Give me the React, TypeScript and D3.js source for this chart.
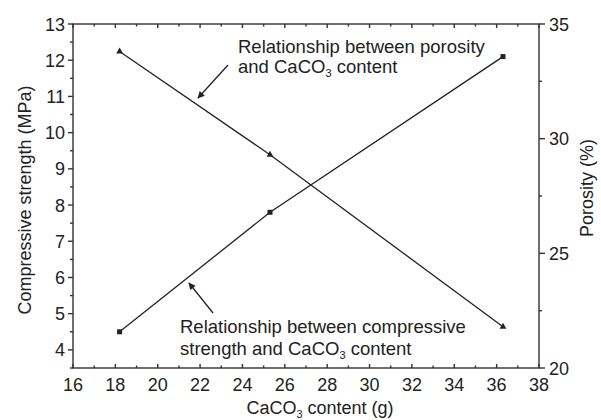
import React from "react";
import * as d3 from "d3";

// CaCO3 content (g)
const caco3 = [18.2, 25.3, 36.3];
// compressive strength (MPa), squares
const strength = [4.5, 7.8, 12.1];
// porosity (%), triangles
const porosity = [33.8, 29.3, 21.8];

const xTicks = [16, 18, 20, 22, 24, 26, 28, 30, 32, 34, 36, 38];
const yLeftTicks = [4, 5, 6, 7, 8, 9, 10, 11, 12, 13];
const yRightTicks = [20, 25, 30, 35];

const W = 601, H = 420;
const m = { left: 73, right: 62, top: 24, bottom: 52 };
const font = "Arial, 'Liberation Sans', sans-serif";
const ink = "#222";

export default function App() {
  const x = d3.scaleLinear().domain([16, 38]).range([m.left, W - m.right]);
  const yL = d3.scaleLinear().domain([3.5, 13]).range([H - m.bottom, m.top]);
  const yR = d3.scaleLinear().domain([20, 35]).range([H - m.bottom, m.top]);
  const x0 = m.left, x1 = W - m.right, y0 = H - m.bottom, y1 = m.top;

  const lineS = d3.line<number>().x((d, i) => x(caco3[i])).y(d => yL(d));
  const lineP = d3.line<number>().x((d, i) => x(caco3[i])).y(d => yR(d));
  const tri = d3.symbol().type(d3.symbolTriangle).size(20)();

  const xMinor = d3.range(17, 38, 2);
  const yLMinor = d3.range(3.5, 13, 1);
  const yRMinor = [22.5, 27.5, 32.5];

  return (
    <svg width={W} height={H} style={{ position: "absolute", left: 0, top: 0 }} fontFamily={font}>
      <defs>
        <marker id="ah" viewBox="0 0 10 10" refX="9" refY="5" markerWidth="9" markerHeight="7" orient="auto" markerUnits="userSpaceOnUse">
          <path d="M0,0 L10,5 L0,10 z" fill={ink} />
        </marker>
      </defs>
      <g stroke="#333" strokeWidth={1.4} fill="none">
        <rect x={x0} y={y1} width={x1 - x0} height={y0 - y1} />
        {xTicks.map(t => (
          <g key={"x" + t}>
            <line x1={x(t)} x2={x(t)} y1={y0} y2={y0 - 4} />
            <line x1={x(t)} x2={x(t)} y1={y1} y2={y1 + 4} />
          </g>
        ))}
        {xMinor.map(t => (
          <g key={"xm" + t}>
            <line x1={x(t)} x2={x(t)} y1={y0} y2={y0 - 2.5} />
            <line x1={x(t)} x2={x(t)} y1={y1} y2={y1 + 2.5} />
          </g>
        ))}
        {yLeftTicks.map(t => (
          <line key={"l" + t} x1={x0} x2={x0 - 5} y1={yL(t)} y2={yL(t)} />
        ))}
        {yLMinor.map(t => (
          <line key={"lm" + t} x1={x0} x2={x0 - 3} y1={yL(t)} y2={yL(t)} />
        ))}
        {yRightTicks.map(t => (
          <line key={"r" + t} x1={x1} x2={x1 + 6} y1={yR(t)} y2={yR(t)} />
        ))}
        {yRMinor.map(t => (
          <line key={"rm" + t} x1={x1} x2={x1 + 3} y1={yR(t)} y2={yR(t)} />
        ))}
      </g>
      <g fontSize={18} fill={ink}>
        {xTicks.map(t => (
          <text key={"xt" + t} x={x(t)} y={y0 + 23} textAnchor="middle">{t}</text>
        ))}
        {yLeftTicks.map(t => (
          <text key={"lt" + t} x={x0 - 8} y={yL(t) + 6.5} textAnchor="end">{t}</text>
        ))}
        {yRightTicks.map(t => (
          <text key={"rt" + t} x={x1 + 10} y={yR(t) + 6.5}>{t}</text>
        ))}
        <text x={320} y={414} textAnchor="middle">
          CaCO<tspan fontSize={11} dy={4}>3</tspan><tspan dy={-4}> content (g)</tspan>
        </text>
        <text transform={`translate(31,${(y0 + y1) / 2 + 4}) rotate(-90)`} textAnchor="middle">Compressive strength (MPa)</text>
        <text transform={`translate(593,${(y0 + y1) / 2 - 8}) rotate(-90)`} textAnchor="middle">Porosity (%)</text>
      </g>
      <g fill="none" stroke={ink} strokeWidth={1.3}>
        <path d={lineS(strength) || ""} />
        <path d={lineP(porosity) || ""} />
      </g>
      <g fill={ink}>
        {strength.map((v, i) => (
          <rect key={"s" + i} x={x(caco3[i]) - 2.5} y={yL(v) - 2.5} width={5} height={5} />
        ))}
        {porosity.map((v, i) => (
          <path key={"p" + i} d={tri || ""} transform={`translate(${x(caco3[i])},${yR(v)})`} />
        ))}
      </g>
      <g fontSize={18.5} fill={ink}>
        <text x={238} y={53}>Relationship between porosity</text>
        <text x={238} y={73}>
          and CaCO<tspan fontSize={11} dy={4}>3</tspan><tspan dy={-4}> content</tspan>
        </text>
        <text x={180} y={333}>Relationship between compressive</text>
        <text x={180} y={355}>
          strength and CaCO<tspan fontSize={11} dy={4}>3</tspan><tspan dy={-4}> content</tspan>
        </text>
      </g>
      <g stroke={ink} strokeWidth={1.3}>
        <line x1={228} y1={65} x2={198} y2={98} markerEnd="url(#ah)" />
        <line x1={213} y1={313} x2={189} y2={283} markerEnd="url(#ah)" />
      </g>
    </svg>
  );
}
